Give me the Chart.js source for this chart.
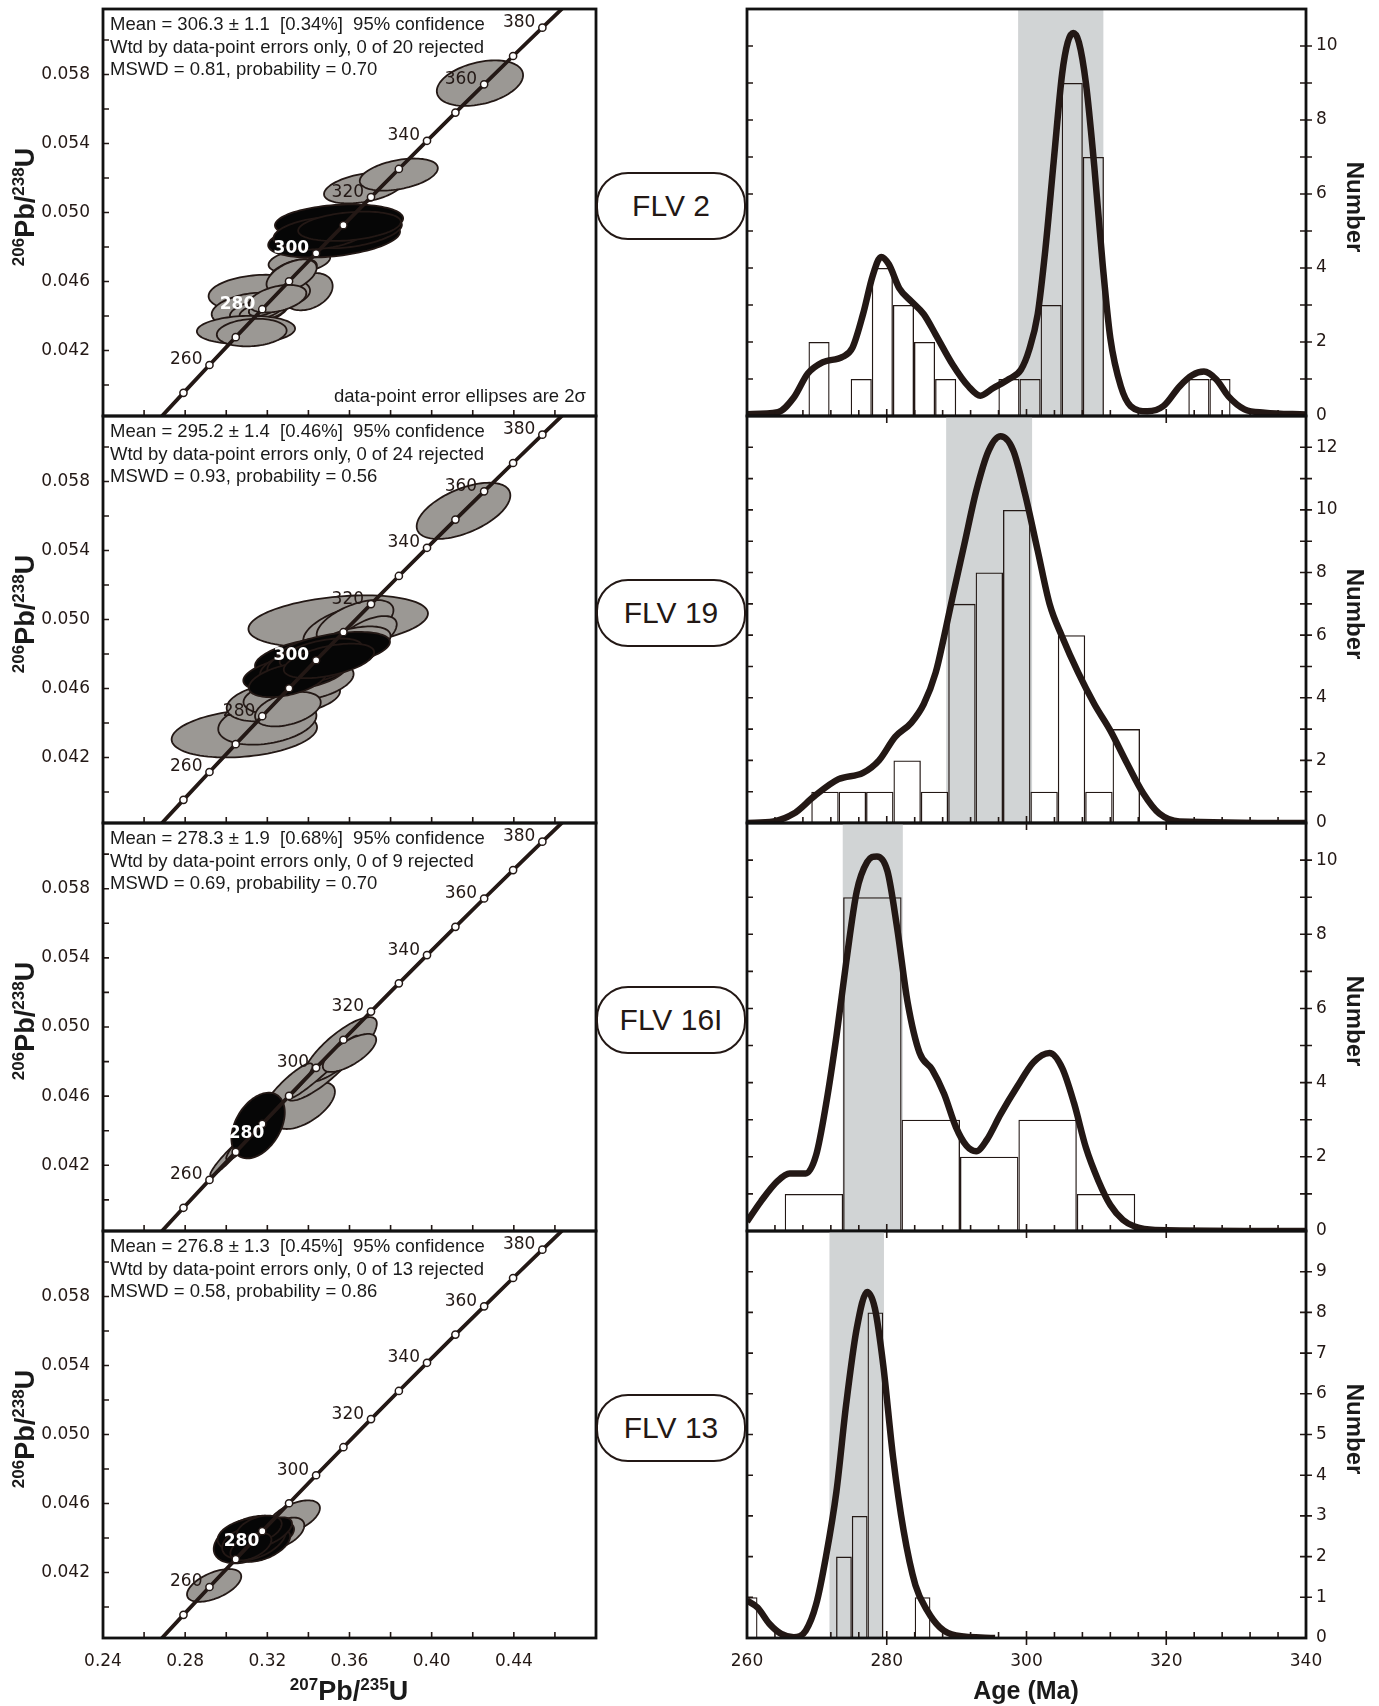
<!DOCTYPE html>
<html>
<head>
<meta charset="utf-8">
<script src="https://cdn.jsdelivr.net/npm/chart.js@4.4.0/dist/chart.umd.min.js"></script>
<style>
  body { margin: 0; background: #fff; width: 1379px; height: 1706px; position: relative; overflow: hidden;
         font-family: "Liberation Sans", Arial, sans-serif; color: #1a1a1a; }
  canvas { position: absolute; }
  .stats { position: absolute; left: 110px; font-size: 18.5px; line-height: 22.5px; white-space: pre; }
  .note { position: absolute; right: 793px; font-size: 18.5px; line-height: 22px; white-space: pre; }
  .flv { position: absolute; left: 596px; width: 150px; height: 68px; box-sizing: border-box;
         border: 2px solid #231815; border-radius: 32px; background: #fff;
         display: flex; align-items: center; justify-content: center; font-size: 30px; color: #231815; }
  .title { position: absolute; font-weight: bold; white-space: nowrap; line-height: 1; }
  .title sup { font-size: 17px; }
</style>
</head>
<body>
<script>
// ---------- data ----------
const samples = ['FLV 2', 'FLV 19', 'FLV 16I', 'FLV 13'];
const meanText = ['Mean = 306.3 ± 1.1  [0.34%]  95% confidence',
                  'Mean = 295.2 ± 1.4  [0.46%]  95% confidence',
                  'Mean = 278.3 ± 1.9  [0.68%]  95% confidence',
                  'Mean = 276.8 ± 1.3  [0.45%]  95% confidence'];
const wtdText = ['Wtd by data-point errors only, 0 of 20 rejected',
                 'Wtd by data-point errors only, 0 of 24 rejected',
                 'Wtd by data-point errors only, 0 of 9 rejected',
                 'Wtd by data-point errors only, 0 of 13 rejected'];
const mswdText = ['MSWD = 0.81, probability = 0.70',
                  'MSWD = 0.93, probability = 0.56',
                  'MSWD = 0.69, probability = 0.70',
                  'MSWD = 0.58, probability = 0.86'];

// concordia (age in Ma, 207Pb/235U, 206Pb/238U)
const concAge = [240, 250, 260, 270, 280, 290, 300, 310, 320, 330, 340, 350, 360, 370, 380, 390];
const concX = [0.26664, 0.27917, 0.29183, 0.30462, 0.31753, 0.33057, 0.34374, 0.35704,
               0.37047, 0.38403, 0.39773, 0.41156, 0.42554, 0.43964, 0.45389, 0.46828];
const concY = [0.037932, 0.039543, 0.041157, 0.042773, 0.044392, 0.046013, 0.047637, 0.049263,
               0.050892, 0.052524, 0.054158, 0.055794, 0.057433, 0.059075, 0.060719, 0.062366];
const ageLabels = [260, 280, 300, 320, 340, 360, 380];
const whiteAges = [[280, 300], [300], [280], [280]];

// error ellipses: [207/235, 206/238, err 207/235, err 206/238, rho]
const flv2Gray = [
  [0.4235, 0.05750, 0.0210, 0.00132, 0.35], [0.3669, 0.05143, 0.0193, 0.00090, 0.40],
  [0.3840, 0.05220, 0.0190, 0.00093, 0.40], [0.3356, 0.04718, 0.0150, 0.00070, 0.30],
  [0.3327, 0.04657, 0.0114, 0.00072, 0.50], [0.3398, 0.04541, 0.0120, 0.00108, 0.30],
  [0.3161, 0.04531, 0.0247, 0.00108, 0.15], [0.3116, 0.04439, 0.0187, 0.00096, 0.30],
  [0.3156, 0.04429, 0.0138, 0.00067, 0.40], [0.3170, 0.04430, 0.0105, 0.00053, 0.50],
  [0.3096, 0.04319, 0.0239, 0.00082, 0.10], [0.3124, 0.04304, 0.0170, 0.00080, 0.15],
  [0.3318, 0.04632, 0.0122, 0.00096, 0.50], [0.3200, 0.04460, 0.0090, 0.00060, 0.60],
  [0.3250, 0.04500, 0.0140, 0.00080, 0.40]];
const flv2Black = [
  [0.3549, 0.04946, 0.0312, 0.00101, 0.20], [0.3525, 0.04850, 0.0321, 0.00111, 0.35],
  [0.3635, 0.04883, 0.0220, 0.00090, 0.50], [0.3460, 0.04880, 0.0230, 0.00095, 0.30],
  [0.3600, 0.04920, 0.0250, 0.00085, 0.30]];

const flv19Gray = [
  [0.4155, 0.05630, 0.0228, 0.00163, 0.55], [0.3545, 0.04990, 0.0437, 0.00150, 0.30],
  [0.3088, 0.04340, 0.0354, 0.00140, 0.25], [0.3200, 0.04404, 0.0239, 0.00130, 0.30],
  [0.3213, 0.04520, 0.0211, 0.00111, 0.30], [0.3319, 0.04553, 0.0235, 0.00106, 0.30],
  [0.3590, 0.04948, 0.0215, 0.00135, 0.50], [0.3627, 0.04983, 0.0187, 0.00130, 0.55],
  [0.3680, 0.04900, 0.0150, 0.00120, 0.60], [0.3600, 0.04850, 0.0200, 0.00110, 0.50],
  [0.3420, 0.04640, 0.0200, 0.00110, 0.40], [0.3300, 0.04480, 0.0160, 0.00100, 0.40]];
const flv19Black = [
  [0.3436, 0.04780, 0.0296, 0.00120, 0.40], [0.3335, 0.04688, 0.0252, 0.00106, 0.40],
  [0.3521, 0.04822, 0.0276, 0.00106, 0.45], [0.3408, 0.04736, 0.0243, 0.00116, 0.45],
  [0.3380, 0.04760, 0.0180, 0.00100, 0.50], [0.3460, 0.04800, 0.0200, 0.00090, 0.50],
  [0.3300, 0.04650, 0.0190, 0.00100, 0.45], [0.3500, 0.04760, 0.0220, 0.00100, 0.50]];

const flv16Gray = [
  [0.3015, 0.04256, 0.0093, 0.00116, 0.95], [0.3383, 0.04545, 0.0146, 0.00135, 0.60],
  [0.3476, 0.04767, 0.0183, 0.00193, 0.85], [0.3554, 0.04869, 0.0179, 0.00188, 0.80],
  [0.3476, 0.04770, 0.0165, 0.00180, 0.97], [0.3600, 0.04850, 0.0130, 0.00110, 0.70],
  [0.3300, 0.04650, 0.0120, 0.00140, 0.90], [0.3080, 0.04330, 0.0080, 0.00100, 0.90]];
const flv16Black = [
  [0.3155, 0.04430, 0.0130, 0.00190, 0.40]];

const flv13Gray = [
  [0.2941, 0.04125, 0.0132, 0.00095, 0.55], [0.3328, 0.04519, 0.0128, 0.00099, 0.55],
  [0.3278, 0.04429, 0.0102, 0.00089, 0.50]];
const flv13Black = [
  [0.3111, 0.04391, 0.0172, 0.00138, 0.40], [0.3172, 0.04401, 0.0158, 0.00100, 0.50],
  [0.3116, 0.04420, 0.0158, 0.00098, 0.30], [0.3181, 0.04360, 0.0130, 0.00098, 0.50],
  [0.3130, 0.04400, 0.0120, 0.00090, 0.40], [0.3150, 0.04380, 0.0140, 0.00110, 0.50],
  [0.3090, 0.04370, 0.0110, 0.00090, 0.30], [0.3200, 0.04430, 0.0120, 0.00090, 0.60],
  [0.3160, 0.04450, 0.0110, 0.00080, 0.40], [0.3120, 0.04350, 0.0100, 0.00080, 0.50]];

// histograms: first bin edge, bin width (Ma), counts
const flv2BinStart = 268.8, flv2BinWidth = 3.02;
const flv2Counts = [2, 0, 1, 4, 3, 2, 1, 0, 0, 1, 1, 3, 9, 7, 0, 0, 0, 0, 1, 1];
const flv19BinStart = 269.2, flv19BinWidth = 3.92;
const flv19Counts = [1, 1, 1, 2, 1, 7, 8, 10, 1, 6, 1, 3];
const flv16BinStart = 265.4, flv16BinWidth = 8.36;
const flv16Counts = [1, 9, 3, 2, 3, 1];
const flv13BinStart = 259.25, flv13BinWidth = 2.25;
const flv13Counts = [1, 0, 0, 0, 0, 0, 2, 3, 8, 0, 0, 1];

// relative probability curves
const flv2Age = [260, 264.4, 266.7, 268.7, 270.8, 273.7, 275.1, 276.6, 278.0, 279.2, 280.3, 281.8, 283.5,
  285.3, 287.0, 289.4, 291.7, 293.4, 295.2, 297.5, 299.2, 300.4, 301.6, 302.7, 303.9, 305.1, 305.9,
  306.7, 307.5, 308.5, 309.7, 310.9, 312.0, 313.5, 314.9, 317.3, 319.6, 321.9, 323.7, 325.4, 327.2,
  328.9, 331.2, 334.1, 340];
const flv2Prob = [0.05, 0.1, 0.5, 1.15, 1.45, 1.6, 1.85, 2.75, 3.8, 4.3, 4.1, 3.45, 3.1,
  2.75, 2.2, 1.4, 0.8, 0.55, 0.75, 1.0, 1.25, 1.8, 2.75, 4.5, 6.9, 9.25, 10.1,
  10.35, 10.1, 9.0, 6.75, 4.1, 2.1, 0.8, 0.27, 0.13, 0.27, 0.8, 1.1, 1.2, 0.98,
  0.53, 0.18, 0.09, 0.04];
const flv19Age = [260, 263.8, 266.7, 269.6, 273.1, 276.6, 278.9, 281.2, 283.5, 285.3, 287.0, 288.2,
  289.4, 291.1, 292.8, 294.6, 296.3, 298.1, 299.8, 301.6, 303.3, 305.1, 307.4, 309.7, 312.0, 314.4,
  316.7, 319.0, 321.9, 340];
const flv19Prob = [0, 0.05, 0.3, 0.85, 1.4, 1.6, 2.0, 2.75, 3.2, 3.8, 4.8, 5.95,
  7.2, 8.9, 10.6, 11.9, 12.35, 11.9, 10.5, 8.7, 7.0, 5.95, 4.8, 3.8, 2.95, 1.9,
  0.95, 0.3, 0.05, 0];
const flv16Age = [260, 262.0, 264.4, 266.1, 268.4, 269.9, 271.3, 272.8, 274.2, 275.7, 277.2, 278.6,
  280.1, 281.5, 283.0, 284.7, 286.5, 288.2, 289.9, 291.4, 292.8, 294.3, 296.3, 298.7, 301.0, 303.3,
  305.1, 306.8, 308.5, 310.3, 312.0, 313.8, 315.5, 318.4, 340];
const flv16Prob = [0.25, 0.8, 1.35, 1.55, 1.55, 2.05, 3.4, 5.25, 7.25, 9.15, 9.95, 10.1,
  9.7, 8.15, 6.15, 4.8, 4.35, 3.7, 2.8, 2.3, 2.15, 2.45, 3.15, 3.9, 4.55, 4.8,
  4.4, 3.45, 2.25, 1.35, 0.7, 0.3, 0.12, 0.03, 0];
const flv13Age = [260, 261.5, 263.2, 264.9, 266.7, 268.4, 269.9, 271.3, 272.8, 274.2, 275.7, 277.2,
  278.3, 279.5, 280.9, 282.4, 284.1, 285.8, 287.6, 289.9, 295.5];
const flv13Prob = [0.92, 0.75, 0.35, 0.1, 0.02, 0.18, 0.83, 2.0, 3.6, 5.75, 7.6, 8.5,
  8.1, 6.7, 4.45, 2.65, 1.3, 0.67, 0.26, 0.06, 0];

// shaded weighted-mean bands
const bands = [[298.8, 311.0], [288.5, 300.8], [273.7, 282.3], [271.8, 279.6]];

// tick labels and tick marks
const concXLabels = [0.24, 0.28, 0.32, 0.36, 0.40, 0.44];
const concXTicks = [0.26, 0.28, 0.30, 0.32, 0.34, 0.36, 0.38, 0.40, 0.42, 0.44, 0.46];
const concYLabels = [0.042, 0.046, 0.050, 0.054, 0.058];
const concYTicks = [0.040, 0.042, 0.044, 0.046, 0.048, 0.050, 0.052, 0.054, 0.056, 0.058, 0.060];
const ageXLabels = [260, 280, 300, 320, 340];
const ageXMajor = [280, 300, 320];
const ageXMinor = [264, 268, 272, 276, 284, 288, 292, 296, 304, 308, 312, 316, 324, 328, 332, 336];
const countMax = [11, 13, 11, 10];
const countLabels = [[0, 2, 4, 6, 8, 10], [0, 2, 4, 6, 8, 10, 12], [0, 2, 4, 6, 8, 10],
                     [0, 1, 2, 3, 4, 5, 6, 7, 8, 9]];
const countTicks = [[1, 2, 3, 4, 5, 6, 7, 8, 9, 10], [1, 2, 3, 4, 5, 6, 7, 8, 9, 10, 11, 12],
                    [1, 2, 3, 4, 5, 6, 7, 8, 9, 10], [1, 2, 3, 4, 5, 6, 7, 8, 9]];

// ---------- layout ----------
const ink = '#231815';
const tickFont = { family: 'DejaVu Sans', size: 17 };
const tops = [9, 416, 823, 1231];
const bots = [416, 823, 1231, 1638];
// offset of the white (inside-black) age labels from their marker, per panel
const whiteShift = [[-7, -5], [-7, -5], [2, 10], [-3, 10]];

function addCanvas(left, top, w, h) {
  const c = document.createElement('canvas');
  c.width = w; c.height = h;
  c.style.left = left + 'px'; c.style.top = top + 'px';
  c.style.width = w + 'px'; c.style.height = h + 'px';
  document.body.appendChild(c);
  return c;
}

function addDiv(cls, html, css) {
  const d = document.createElement('div');
  d.className = cls;
  d.innerHTML = html;
  Object.assign(d.style, css);
  document.body.appendChild(d);
  return d;
}

// ---------- plugins ----------
function ellipsePlugin(gray, black) {
  return {
    id: 'ellipses',
    beforeDatasetsDraw(chart) {
      const { ctx, chartArea: a, scales: { x, y } } = chart;
      ctx.save();
      ctx.beginPath();
      ctx.rect(a.left, a.top, a.right - a.left, a.bottom - a.top);
      ctx.clip();
      ctx.lineWidth = 1.8;
      ctx.strokeStyle = ink;
      const draw = (e, fill) => {
        const [cx, cy, ex, ey, rho] = e;
        const r = Math.sqrt(1 - rho * rho);
        ctx.beginPath();
        for (let k = 0; k <= 96; k++) {
          const t = k / 96 * Math.PI * 2;
          const u = Math.cos(t), v = Math.sin(t);
          const px = x.getPixelForValue(cx + ex * u);
          const py = y.getPixelForValue(cy + ey * (rho * u + r * v));
          if (k === 0) ctx.moveTo(px, py); else ctx.lineTo(px, py);
        }
        ctx.closePath();
        ctx.fillStyle = fill;
        ctx.fill();
        ctx.stroke();
      };
      gray.forEach(e => draw(e, '#9b9894'));
      black.forEach(e => draw(e, '#060606'));
      ctx.restore();
    }
  };
}

function ageLabelPlugin(white, shift) {
  return {
    id: 'ageLabels',
    afterDatasetsDraw(chart) {
      const { ctx, scales: { x, y } } = chart;
      ctx.save();
      ctx.textAlign = 'right';
      ctx.textBaseline = 'middle';
      ageLabels.forEach(age => {
        const k = concAge.indexOf(age);
        const px = x.getPixelForValue(concX[k]);
        const py = y.getPixelForValue(concY[k]);
        const w = white.includes(age);
        ctx.font = (w ? 'bold ' : '') + '17px "DejaVu Sans"';
        ctx.fillStyle = w ? '#fff' : ink;
        const d = w ? shift : [-7, -5];
        ctx.fillText(String(age), px + d[0], py + d[1]);
      });
      ctx.restore();
    }
  };
}

function bandPlugin(band) {
  return {
    id: 'band',
    beforeDatasetsDraw(chart) {
      const { ctx, chartArea: a, scales: { x } } = chart;
      const x0 = x.getPixelForValue(band[0]);
      const x1 = x.getPixelForValue(band[1]);
      ctx.save();
      ctx.fillStyle = '#d1d4d5';
      ctx.fillRect(x0, a.top, x1 - x0, a.bottom - a.top);
      ctx.restore();
    }
  };
}

function framePlugin(cfg) {
  return {
    id: 'frame',
    afterDatasetsDraw(chart) {
      const { ctx, chartArea: a, scales: { x, y } } = chart;
      ctx.save();
      ctx.strokeStyle = ink;
      ctx.lineWidth = 1.6;
      ctx.beginPath();
      (cfg.xIn || []).forEach(v => {
        const p = x.getPixelForValue(v);
        ctx.moveTo(p, a.bottom); ctx.lineTo(p, a.bottom - 6);
      });
      (cfg.xCross || []).forEach(v => {
        const p = x.getPixelForValue(v);
        ctx.moveTo(p, a.bottom + 7); ctx.lineTo(p, a.bottom - 7);
      });
      (cfg.yIn || []).forEach(v => {
        const p = y.getPixelForValue(v);
        ctx.moveTo(a.left, p); ctx.lineTo(a.left + 6, p);
        if (cfg.rightCross) { ctx.moveTo(a.right - 6, p); ctx.lineTo(a.right + 6, p); }
      });
      ctx.stroke();
      ctx.lineWidth = 2.8;
      ctx.strokeStyle = '#111';
      ctx.strokeRect(a.left, a.top, a.right - a.left, a.bottom - a.top);
      ctx.restore();
    }
  };
}

// ---------- charts ----------
function concordiaChart(i, gray, black) {
  const bottom = i === 3;
  const h = bots[i] - tops[i];
  const cv = addCanvas(0, tops[i] - 30, 600, h + 30 + (bottom ? 55 : 30));
  new Chart(cv, {
    type: 'scatter',
    data: {
      datasets: [{
        type: 'line',
        data: concAge.map((a, k) => ({ x: concX[k], y: concY[k] })),
        showLine: true,
        borderColor: ink,
        borderWidth: 3.8,
        tension: 0,
        fill: false,
        pointRadius: concAge.map(a => (a >= 250 && a <= 380 ? 3.6 : 0)),
        pointBackgroundColor: '#fff',
        pointBorderColor: ink,
        pointBorderWidth: 1.5
      }]
    },
    options: {
      responsive: false, animation: false, devicePixelRatio: 1, events: [],
      layout: { padding: { left: 0, right: 4, top: 30, bottom: bottom ? 10 : 30 } },
      plugins: { legend: { display: false }, tooltip: { enabled: false } },
      scales: {
        x: {
          type: 'linear', min: 0.24, max: 0.48, bounds: 'data', display: bottom,
          grid: { display: false, drawTicks: false }, border: { display: false },
          afterBuildTicks: ax => { ax.ticks = concXLabels.map(v => ({ value: v })); },
          afterFit: bottom ? (ax => { ax.height = 45; }) : undefined,
          ticks: { padding: 13, autoSkip: false, maxRotation: 0, font: tickFont, color: ink,
                   callback: v => v.toFixed(2) }
        },
        y: {
          type: 'linear', min: 0.0382, max: 0.0618, bounds: 'data',
          grid: { display: false, drawTicks: false }, border: { display: false },
          afterBuildTicks: ax => { ax.ticks = concYLabels.map(v => ({ value: v })); },
          afterFit: ax => { ax.width = 103; },
          ticks: { padding: 13, autoSkip: false, font: tickFont, color: ink,
                   callback: v => v.toFixed(3) }
        }
      }
    },
    plugins: [ellipsePlugin(gray, black), ageLabelPlugin(whiteAges[i], whiteShift[i]),
              framePlugin({ xIn: concXTicks, yIn: concYTicks })]
  });
}

function histChart(i, binStart, binWidth, counts, ages, probs) {
  const bottom = i === 3;
  const h = bots[i] - tops[i];
  const cv = addCanvas(700, tops[i] - 30, 679, h + 30 + (bottom ? 55 : 30));
  new Chart(cv, {
    type: 'bar',
    data: {
      datasets: [{
        type: 'line',
        data: ages.map((a, k) => ({ x: a, y: probs[k] })),
        borderColor: ink,
        borderWidth: 6.5,
        pointRadius: 0,
        cubicInterpolationMode: 'monotone',
        fill: false,
        order: 0
      }, {
        type: 'bar',
        data: counts.map((c, k) => ({ x: binStart + binWidth * (k + 0.5), y: c })),
        backgroundColor: 'rgba(0,0,0,0)',
        borderColor: ink,
        borderWidth: 1.3,
        borderSkipped: 'start',
        inflateAmount: 0,
        barThickness: 'flex',
        barPercentage: 1,
        categoryPercentage: 1,
        order: 1
      }]
    },
    options: {
      responsive: false, animation: false, devicePixelRatio: 1, events: [],
      layout: { padding: { left: 47, right: 0, top: 30, bottom: bottom ? 10 : 30 } },
      plugins: { legend: { display: false }, tooltip: { enabled: false } },
      scales: {
        x: {
          type: 'linear', min: 260, max: 340, bounds: 'data', offset: false, display: bottom,
          grid: { display: false, drawTicks: false, offset: false }, border: { display: false },
          afterBuildTicks: ax => { ax.ticks = ageXLabels.map(v => ({ value: v })); },
          afterFit: bottom ? (ax => { ax.height = 45; }) : undefined,
          ticks: { padding: 13, autoSkip: false, maxRotation: 0, font: tickFont, color: ink }
        },
        y: {
          type: 'linear', position: 'right', min: 0, max: countMax[i], bounds: 'data',
          grid: { display: false, drawTicks: false }, border: { display: false },
          afterBuildTicks: ax => { ax.ticks = countLabels[i].map(v => ({ value: v })); },
          afterFit: ax => { ax.width = 73; },
          ticks: { padding: 10, autoSkip: false, font: tickFont, color: ink }
        }
      }
    },
    plugins: [bandPlugin(bands[i]),
              framePlugin({ xIn: ageXMinor, xCross: ageXMajor, yIn: countTicks[i], rightCross: true })]
  });
}

concordiaChart(0, flv2Gray, flv2Black);
concordiaChart(1, flv19Gray, flv19Black);
concordiaChart(2, flv16Gray, flv16Black);
concordiaChart(3, flv13Gray, flv13Black);

histChart(0, flv2BinStart, flv2BinWidth, flv2Counts, flv2Age, flv2Prob);
histChart(1, flv19BinStart, flv19BinWidth, flv19Counts, flv19Age, flv19Prob);
histChart(2, flv16BinStart, flv16BinWidth, flv16Counts, flv16Age, flv16Prob);
histChart(3, flv13BinStart, flv13BinWidth, flv13Counts, flv13Age, flv13Prob);

// ---------- text overlays ----------
samples.forEach((s, i) => {
  const mid = (tops[i] + bots[i]) / 2;
  addDiv('stats', meanText[i] + '\n' + wtdText[i] + '\n' + mswdText[i], { top: (tops[i] + 4) + 'px' });
  addDiv('flv', s, { top: (mid - 7 - 34) + 'px' });
  addDiv('title', '<sup>206</sup>Pb/<sup>238</sup>U', {
    left: '24px', top: (mid - 6) + 'px', fontSize: '27px',
    transform: 'translate(-50%, -50%) rotate(-90deg)'
  });
  addDiv('title', 'Number', {
    left: '1355px', top: (mid - 6) + 'px', fontSize: '24px',
    transform: 'translate(-50%, -50%) rotate(90deg)'
  });
});
addDiv('note', 'data-point error ellipses are 2σ', { top: '385px' });
addDiv('title', '<sup>207</sup>Pb/<sup>235</sup>U', {
  left: '349px', top: '1690px', fontSize: '27px', transform: 'translate(-50%, -50%)'
});
addDiv('title', 'Age (Ma)', {
  left: '1026px', top: '1690px', fontSize: '25px', transform: 'translate(-50%, -50%)'
});
</script>
</body>
</html>
